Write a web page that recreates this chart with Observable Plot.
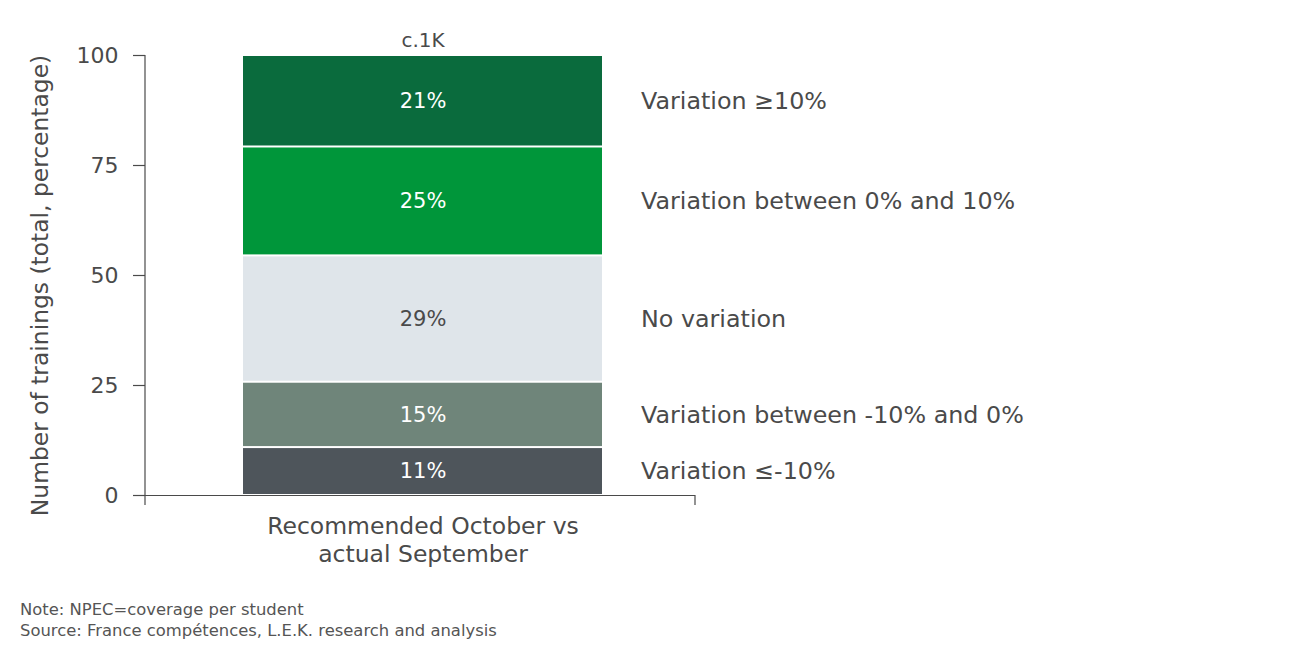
<!DOCTYPE html>
<html>
<head>
<meta charset="utf-8">
<script src="https://cdn.jsdelivr.net/npm/d3@7"></script>
<script src="https://cdn.jsdelivr.net/npm/@observablehq/plot@0.6"></script>
<style>
  html, body { margin: 0; padding: 0; background: #fff; }
  body { width: 1300px; height: 650px; position: relative; overflow: hidden; font-family: "DejaVu Sans", sans-serif; }
  #chart { position: absolute; left: 0; top: 0; }
  #caption { position: absolute; left: 20px; top: 599px; font-size: 16.4px; line-height: 21px; color: #555; }
</style>
</head>
<body>
<div id="chart"></div>
<div id="caption">
  <div>Note: NPEC=coverage per student</div>
  <div>Source: France compétences, L.E.K. research and analysis</div>
</div>
<script>
// ---- data ----
const categories = ["Recommended October vs actual September"];
const segments = ["Variation ≤-10%", "Variation between -10% and 0%", "No variation", "Variation between 0% and 10%", "Variation ≥10%"];
const shares = [11, 15, 29, 25, 21];
const totalLabels = ["c.1K"];
const yTicks = [0, 25, 50, 75, 100];
const yTitle = ["Number of trainings (total, percentage)"];

// palette (styles)
const palette = ["#4e555b", "#6f857a", "#dfe5ea", "#00963a", "#0a6b3d"];
const ink = "#4a4a4a";

const table = segments.map((s, i) => ({category: categories[0], segment: s, value: shares[i]}));
const stackOpts = {offset: "normalize", x: "category", y: "value"};

const plot = Plot.plot({
  width: 1300,
  height: 590,
  marginLeft: 145,
  marginRight: 605,
  marginTop: 55,
  marginBottom: 95,
  style: {fontFamily: "DejaVu Sans, sans-serif", color: ink, background: "transparent"},
  x: {domain: categories, padding: 0.21, align: 0.51, axis: null},
  y: {domain: [0, 1], axis: null},
  color: {domain: segments, range: palette},
  marks: [
    Plot.barY(table, Plot.stackY({...stackOpts, fill: "segment", insetTop: 1, insetBottom: 1})),
    Plot.text(table, {...Plot.stackY({...stackOpts, text: d => d.value + "%"}), fill: "white", fontSize: 21, filter: d => d.segment !== "No variation"}),
    Plot.text(table, {...Plot.stackY({...stackOpts, text: d => d.value + "%"}), fill: ink, fontSize: 21, filter: d => d.segment === "No variation"}),
    Plot.text(table, {...Plot.stackY({...stackOpts, text: "segment"}), textAnchor: "start", dx: 218, fontSize: 23.8, fill: ink}),
    Plot.text(totalLabels, {x: () => categories[0], frameAnchor: "top", lineAnchor: "middle", dy: -15, text: d => d, fontSize: 20, fill: ink}),
    Plot.text(yTitle, {frameAnchor: "left", textAnchor: "middle", lineAnchor: "middle", rotate: -90, dx: -105, dy: 10, text: d => d, fontSize: 23.4, fill: ink}),
    Plot.ruleY([0], {stroke: ink, strokeWidth: 1.2}),
    Plot.axisY(yTicks.map(t => t / 100), {
      tickSize: 12, tickPadding: 15, tickFormat: d => Math.round(d * 100),
      fontSize: 22, stroke: ink, strokeWidth: 1.2, label: null
    }),
    Plot.axisX({
      tickSize: 0, tickPadding: 18, fontSize: 23.5, label: null,
      tickFormat: d => d.replace(" vs ", " vs\n"), lineHeight: 1.2
    })
  ]
});

// axis line on the left and outer tick at the right end, derived from the scales
const xr = plot.scale("x").range;
const yr = plot.scale("y").range;
const y0 = Math.max(...yr), y1 = Math.min(...yr);
const g = d3.select(plot).append("g").attr("stroke", ink).attr("stroke-width", 1.2);
g.append("line").attr("x1", xr[0]).attr("x2", xr[0]).attr("y1", y1).attr("y2", y0 + 10);
g.append("line").attr("x1", xr[1]).attr("x2", xr[1]).attr("y1", y0).attr("y2", y0 + 10);

document.getElementById("chart").appendChild(plot);
</script>
</body>
</html>
